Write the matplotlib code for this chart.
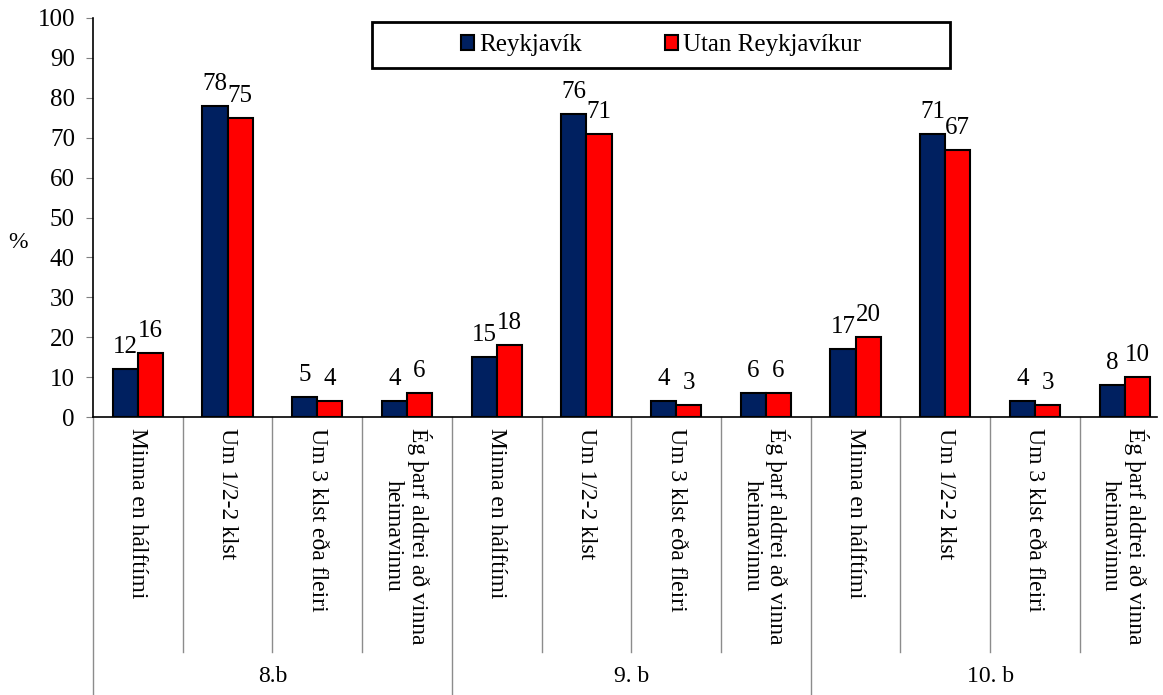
import numpy as np
import matplotlib.pyplot as plt
from matplotlib.patches import Rectangle
import matplotlib.transforms as mtransforms

plt.rcParams['font.family'] = ['Liberation Serif', 'DejaVu Serif']

categories = ['Minna en hálftími', 'Um 1/2-2 klst', 'Um 3 klst eða fleiri',
              'Ég þarf aldrei að vinna\nheimavinnu'] * 3
groups = ['8.b', '9. b', '10. b']
reykjavik = [12, 78, 5, 4, 15, 76, 4, 6, 17, 71, 4, 8]
utan = [16, 75, 4, 6, 18, 71, 3, 6, 20, 67, 3, 10]
series_names = ['Reykjavík', 'Utan Reykjavíkur']

W, H = 1163, 695
fig = plt.figure(figsize=(W / 100, H / 100), dpi=100)
ax = fig.add_axes([93 / W, 1 - 417 / H, (1157 - 93) / W, (417 - 18) / H])

x = np.arange(len(categories))
bw = 0.28
b1 = ax.bar(x - bw / 2, reykjavik, bw, color='#002060', edgecolor='black',
            linewidth=1.5, label=series_names[0], zorder=3)
b2 = ax.bar(x + bw / 2, utan, bw, color='#ff0000', edgecolor='black',
            linewidth=1.5, label=series_names[1], zorder=3)

for bars, vals in [(b1, reykjavik), (b2, utan)]:
    for r, v in zip(bars, vals):
        ax.annotate(str(v), (r.get_x() + r.get_width() / 2, v),
                    xytext=(0, 8), textcoords='offset points',
                    ha='center', va='bottom', fontsize=18)

ax.set_xlim(-0.5, 11.36)
ax.set_ylim(0, 100)
ax.set_yticks(range(0, 101, 10))
ax.tick_params(axis='y', labelsize=18, length=5, color='#808080', pad=8)
ax.set_xticks([])
for s in ['top', 'right']:
    ax.spines[s].set_visible(False)
ax.spines['left'].set_linewidth(1.2)
ax.spines['bottom'].set_linewidth(1.2)

trans = mtransforms.blended_transform_factory(ax.transData, ax.transAxes)
ax_h = 417 - 18
for i in range(len(categories) + 1):
    xb = i - 0.5
    if i % 4 == 0:
        y_end = (417 - 700) / ax_h
    else:
        y_end = (417 - 652) / ax_h
    ax.plot([xb, xb], [0, y_end], color='#8c8c8c', linewidth=1,
            transform=trans, clip_on=False)

for i, lab in enumerate(categories):
    ax.text(i, (417 - 428) / ax_h, lab, transform=trans, rotation=-90,
            ha='center', va='top', fontsize=17, multialignment='center')

for g, name in enumerate(groups):
    ax.text(g * 4 + 1.5, (417 - 676) / ax_h, name, transform=trans,
            ha='center', va='center', fontsize=17)

fig.text(18 / W, 1 - 243 / H, '%', fontsize=17, ha='center', va='center')

# legend box
fig.patches.append(Rectangle((372 / W, 1 - 68 / H), (950 - 372) / W, 46 / H,
                             transform=fig.transFigure, facecolor='white',
                             edgecolor='black', linewidth=2, zorder=5))
leg = fig.legend(loc='center', bbox_to_anchor=(661 / W, 1 - 45 / H),
                 ncol=2, frameon=False, fontsize=18, handlelength=0.55,
                 handleheight=0.55, handletextpad=0.2, columnspacing=3.3)
leg.set_zorder(6)

fig.savefig('out.png', dpi=100)
